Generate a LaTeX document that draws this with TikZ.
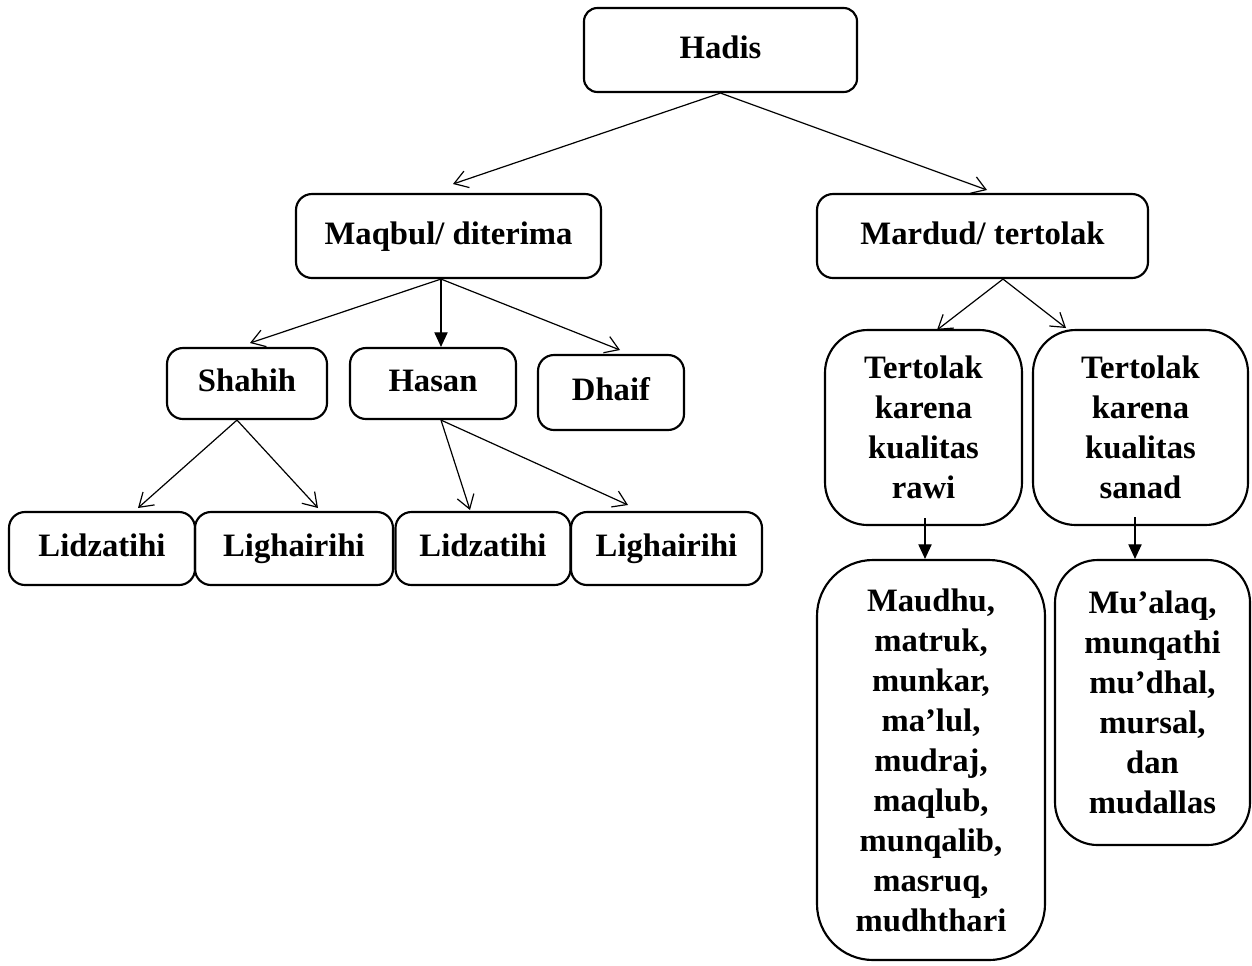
\documentclass[tikz,border=0pt]{standalone}
\usepackage{fontspec}
\setmainfont{Liberation Serif}
\usetikzlibrary{arrows.meta}
\begin{document}
\begin{tikzpicture}[x=0.75pt,y=-0.75pt,
  box/.style n args={2}{draw,line width=1.6pt,rounded corners=#1,align=center,
    font=\fontsize{24.5}{30}\selectfont\bfseries,inner sep=0pt},
  one/.style={text height=18pt,text depth=6pt},
  sz/.style n args={2}{minimum width=#1*0.75pt,minimum height=#2*0.75pt},
  open/.style={draw,line width=0.9pt,-{Straight Barb[length=10pt,width=13pt,line width=0.9pt]}},
  solid/.style={draw,line width=0.9pt,-{Triangle[length=11pt,width=10pt]}}]
\useasboundingbox (0,0) rectangle (1252,965);
% nodes
\node[box={10}{},one,sz={273}{84}] (hadis) at (720.5,50) {Hadis};
\node[box={12}{},one,sz={305}{84}] (maqbul) at (448.5,236) {Maqbul/ diterima};
\node[box={12}{},one,sz={331}{84}] (mardud) at (982.5,236) {Mardud/ tertolak};
\node[box={12}{},one,sz={160}{71}] (shahih) at (247,383.5) {Shahih};
\node[box={12}{},one,sz={166}{71}] (hasan) at (433,383.5) {Hasan};
\node[box={12}{},one,sz={146}{75}] (dhaif) at (611,392.5) {Dhaif};
\node[box={12}{},one,sz={186}{73}] (lid1) at (102,548.5) {Lidzatihi};
\node[box={12}{},one,sz={198}{73}] (lig1) at (294,548.5) {Lighairihi};
\node[box={12}{},one,sz={175}{73}] (lid2) at (483,548.5) {Lidzatihi};
\node[box={12}{},one,sz={191}{73}] (lig2) at (666.5,548.5) {Lighairihi};
\node[box={32}{},sz={197}{195}] (rawi) at (923.5,427.5) {Tertolak\\karena\\kualitas\\rawi};
\node[box={32}{},sz={215}{195}] (sanad) at (1140.5,427.5) {Tertolak\\karena\\kualitas\\sanad};
\node[box={42}{},sz={228}{400}] (maudhu) at (931,760) {Maudhu,\\matruk,\\munkar,\\ma’lul,\\mudraj,\\maqlub,\\munqalib,\\masruq,\\mudhthari};
\node[box={32}{},sz={195}{285}] (mualaq) at (1152.5,702.5) {Mu’alaq,\\munqathi\\mu’dhal,\\mursal,\\dan\\mudallas};
% free-end coordinates
\coordinate (t1) at (453,184);
\coordinate (t2) at (987,190);
\coordinate (t3) at (250,343);
\coordinate (t4) at (620,350);
\coordinate (t5) at (138,508);
\coordinate (t6) at (318,508);
\coordinate (t7) at (470,510);
\coordinate (t8) at (628,505);
\coordinate (t9) at (937,330);
\coordinate (t10) at (1066,328);
\coordinate (r0) at (925,518);
\coordinate (s0) at (1135,517);
% connectors
\path[open] (hadis.south) -- (t1);
\path[open] (hadis.south) -- (t2);
\path[open] (maqbul.south -| 441,0) -- (t3);
\path[solid] (maqbul.south -| 441,0) -- (hasan.north -| 441,0);
\path[open] (maqbul.south -| 441,0) -- (t4);
\path[open] (shahih.south -| 237,0) -- (t5);
\path[open] (shahih.south -| 237,0) -- (t6);
\path[open] (hasan.south -| 441,0) -- (t7);
\path[open] (hasan.south -| 441,0) -- (t8);
\path[open] (mardud.south -| 1003,0) -- (t9);
\path[open] (mardud.south -| 1003,0) -- (t10);
\path[solid] (r0) -- (maudhu.north -| r0);
\path[solid] (s0) -- (mualaq.north -| s0);
\end{tikzpicture}
\end{document}
